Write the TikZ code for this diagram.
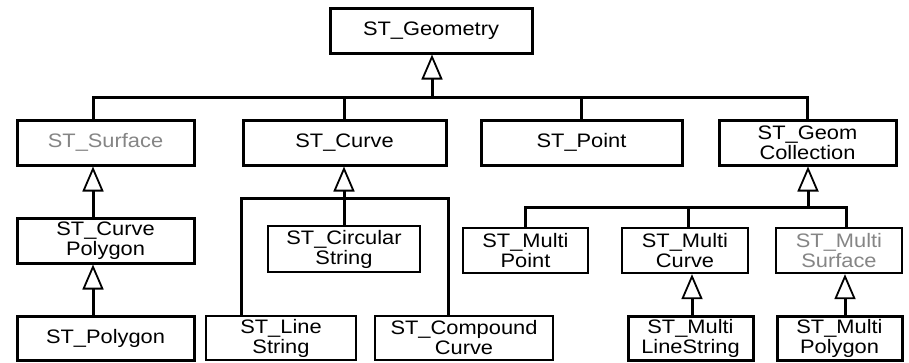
\documentclass[tikz,border=0pt]{standalone}
\usepackage{fontspec}
\setmainfont{Liberation Sans}[FakeStretch=1.12]
\usetikzlibrary{arrows.meta}
\begin{document}
\begin{tikzpicture}[x=1pt,y=-1pt,
  box/.style={draw, rectangle, inner sep=0pt, align=center,
    font=\fontsize{19.5}{20}\selectfont, line width=3pt},
  thinbox/.style={box, line width=2.3pt},
  ghost/.style={text=black!48},
  link/.style={line width=3pt, line join=miter},
  gen/.style={link, -{Triangle[open, width=21pt, length=25pt, line width=1.8pt]}}]
\useasboundingbox (0,0) rectangle (909,362);

% root
\node[box, minimum width=202pt, minimum height=45pt] (geo) at (431,30.5) {ST\_Geometry};

% first level
\node[box, ghost, minimum width=177pt, minimum height=45pt] (surf) at (105.5,142.5) {ST\_Surface};
\node[box, minimum width=203pt, minimum height=45pt] (curve) at (344.5,142.5) {ST\_Curve};
\node[box, minimum width=201pt, minimum height=45pt] (point) at (581.5,142.5) {ST\_Point};
\node[box, minimum width=177pt, minimum height=45pt] (gcol) at (807.5,142.5) {ST\_Geom\\Collection};

% surfaces
\node[box, minimum width=177pt, minimum height=45pt] (cpoly) at (105.5,240.5) {ST\_Curve\\Polygon};
\node[box, minimum width=177pt, minimum height=44pt] (poly) at (105.5,338) {ST\_Polygon};

% curves
\node[thinbox, minimum width=152pt, minimum height=46pt] (circ) at (344,249) {ST\_Circular\\String};
\node[thinbox, minimum width=150pt, minimum height=44pt] (line) at (281,338) {ST\_Line\\String};
\node[thinbox, minimum width=178pt, minimum height=44pt] (comp) at (464,338) {ST\_Compound\\Curve};

% collections
\node[thinbox, minimum width=125pt, minimum height=45pt] (mpoint) at (525.5,250.5) {ST\_Multi\\Point};
\node[thinbox, minimum width=126pt, minimum height=45pt] (mcurve) at (685,250.5) {ST\_Multi\\Curve};
\node[thinbox, ghost, minimum width=126pt, minimum height=45pt] (msurf) at (839,250.5) {ST\_Multi\\Surface};
\node[box, minimum width=125pt, minimum height=44pt] (mls) at (690.5,338) {ST\_Multi\\LineString};
\node[box, minimum width=125pt, minimum height=44pt] (mpoly) at (839.5,338) {ST\_Multi\\Polygon};

% junctions and connector columns
\coordinate (bus) at (432,97);
\coordinate (cj) at (344,198);
\coordinate (gj) at (808,207);
\coordinate (colA) at (93,0);
\coordinate (colL) at (241,0);
\coordinate (colC) at (448,0);
\coordinate (colM) at (688,0);
\coordinate (colS) at (846,0);
\coordinate (colML) at (692,0);
\coordinate (colMP) at (845,0);

% ST_Geometry subtypes
\draw[gen] (bus) -- (bus |- geo.south);
\draw[link] (surf.north -| colA) |- (bus) -| (gcol.north);
\draw[link] (curve.north) -- (curve.north |- bus);
\draw[link] (point.north) -- (point.north |- bus);

% surface chain
\draw[gen] (cpoly.north -| colA) -- (surf.south -| colA);
\draw[gen] (poly.north -| colA) -- (cpoly.south -| colA);

% curve subtypes
\draw[gen] (cj) -- (cj |- curve.south);
\draw[link] (line.north -| colL) |- (cj) -| (comp.north -| colC);
\draw[link] (circ.north) -- (cj);

% collection subtypes
\draw[gen] (gj) -- (gj |- gcol.south);
\draw[link] (mpoint.north) |- (gj) -| (msurf.north -| colS);
\draw[link] (mcurve.north -| colM) -- (colM |- gj);
\draw[gen] (mls.north -| colML) -- (mcurve.south -| colML);
\draw[gen] (mpoly.north -| colMP) -- (msurf.south -| colMP);
\end{tikzpicture}
\end{document}
